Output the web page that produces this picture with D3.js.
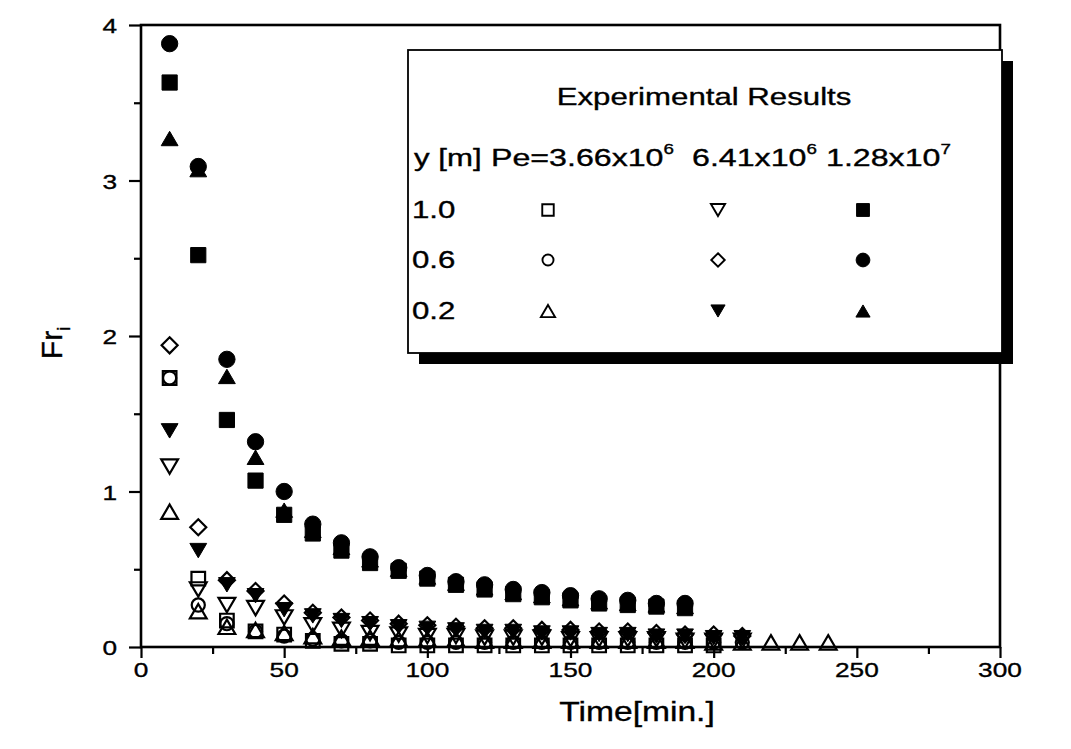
<!DOCTYPE html>
<html>
<head>
<meta charset="utf-8">
<script src="https://cdn.jsdelivr.net/npm/d3@7"></script>
<style>
html,body{margin:0;padding:0;background:#fff;}
svg{display:block;font-family:"Liberation Sans",Arial,sans-serif;}
</style>
</head>
<body>
<svg id="chart" width="1071" height="749"></svg>
<script>
// ---- data ----
const time = [10,20,30,40,50,60,70,80,90,100,110,120,130,140,150,160,170,180,190,200,210,220,230,240];
const xTicks = [0,50,100,150,200,250,300];
const yTicks = [0,1,2,3,4];
// Pe = 3.66x10^6
const pe1_y10 = [1.73,0.44,0.17,0.10,0.08,0.04,0.02,0.02,0.01,0.01,0.01,0.01,0.01,0.01,0.01,0.01,0.01,0.01,0.01,0.01];
const pe1_y06 = [1.73,0.27,0.15,0.10,0.07,0.05,0.04,0.04,0.03,0.03,0.03,0.03,0.03,0.03,0.03,0.03,0.03,0.03,0.03,0.03,0.03];
const pe1_y02 = [0.87,0.23,0.13,0.11,0.09,0.07,0.06,0.06,0.05,0.05,0.05,0.04,0.04,0.04,0.04,0.04,0.04,0.04,0.04,0.03,0.03,0.03,0.03,0.03];
// Pe = 6.41x10^6
const pe2_y10 = [1.16,0.37,0.27,0.25,0.19,0.14,0.11,0.09,0.08,0.07,0.07,0.06,0.06,0.06,0.05,0.05,0.05,0.05,0.04,0.04,0.04];
const pe2_y06 = [1.94,0.77,0.43,0.36,0.28,0.22,0.19,0.17,0.15,0.14,0.13,0.12,0.12,0.11,0.11,0.10,0.10,0.09,0.08,0.08,0.07];
const pe2_y02 = [1.39,0.62,0.40,0.33,0.24,0.20,0.17,0.15,0.13,0.12,0.11,0.10,0.10,0.09,0.09,0.08,0.08,0.07,0.07,0.06,0.06];
// Pe = 1.28x10^7
const pe3_y10 = [3.63,2.52,1.46,1.07,0.85,0.73,0.62,0.54,0.49,0.44,0.40,0.37,0.34,0.32,0.30,0.28,0.27,0.26,0.25];
const pe3_y06 = [3.88,3.09,1.85,1.32,1.00,0.79,0.67,0.58,0.51,0.46,0.42,0.40,0.37,0.35,0.33,0.31,0.30,0.28,0.28];
const pe3_y02 = [3.27,3.07,1.74,1.22,0.88,0.75,0.64,0.56,0.50,0.45,0.41,0.38,0.35,0.33,0.31,0.29,0.28,0.27,0.26];

const rowLabels = ["1.0","0.6","0.2"];

// series definitions (value array + marker)
const series = [
  {v: pe3_y10, shape:"square",  filled:true,  row:0, col:2},
  {v: pe3_y06, shape:"circle",  filled:true,  row:1, col:2},
  {v: pe3_y02, shape:"triUp",   filled:true,  row:2, col:2},
  {v: pe2_y02, shape:"triDown", filled:true,  row:2, col:1},
  {v: pe2_y06, shape:"diamond", filled:false, row:1, col:1},
  {v: pe2_y10, shape:"triDown", filled:false, row:0, col:1},
  {v: pe1_y10, shape:"square",  filled:false, row:0, col:0},
  {v: pe1_y06, shape:"circle",  filled:false, row:1, col:0},
  {v: pe1_y02, shape:"triUp",   filled:false, row:2, col:0}
];

// ---- layout ----
const svg = d3.select("#chart");
const L = 141, R = 1000, T = 25, B = 647;
const x = d3.scaleLinear().domain([0,300]).range([L,R]);
const y = d3.scaleLinear().domain([0,4]).range([B,T]);
const SX = 1.25; // horizontal stretch of the original lettering

function stext(parent, px, py, str, size, anchor, sx){
  const g = parent.append("g").attr("transform",`translate(${px},${py}) scale(${sx},1)`);
  return g.append("text").attr("x",0).attr("y",0)
    .attr("font-size",size).attr("text-anchor",anchor||"start").attr("fill","#000")
    .attr("stroke","#000").attr("stroke-width",0.35).text(str);
}

function markerPath(shape, s, filled){
  const h = s/2;
  switch(shape){
    case "square": { const q = filled ? h*0.95 : h*0.85; return `M${-q},${-q}H${q}V${q}H${-q}Z`; }
    case "circle": { const r = filled ? h*1.02 : h*0.82; return `M${r},0A${r},${r} 0 1,1 ${-r},0A${r},${r} 0 1,1 ${r},0Z`; }
    case "triUp":   { const hh = s*0.45; return `M0,${-hh}L${h*1.05},${hh}L${-h*1.05},${hh}Z`; }
    case "triDown": { const hh = s*0.45; return `M0,${hh}L${h*1.05},${-hh}L${-h*1.05},${-hh}Z`; }
    case "diamond": { const d = h*1.0; return `M0,${-d}L${d},0L0,${d}L${-d},0Z`; }
  }
}

// ---- axes ----
const gx = svg.append("g").attr("transform",`translate(0,${B})`)
  .call(d3.axisBottom(x).tickValues(xTicks).tickSize(11).tickFormat(""));
const gxm = svg.append("g").attr("transform",`translate(0,${B})`)
  .call(d3.axisBottom(x).tickValues(d3.range(25,300,50)).tickSize(7).tickFormat(""));
const gy = svg.append("g").attr("transform",`translate(${L},0)`)
  .call(d3.axisLeft(y).tickValues(yTicks).tickSize(12).tickFormat(""));
const gym = svg.append("g").attr("transform",`translate(${L},0)`)
  .call(d3.axisLeft(y).tickValues(d3.range(0.5,4,1)).tickSize(7).tickFormat(""));
[gx,gxm,gy,gym].forEach(g=>{
  g.select(".domain").remove();
  g.selectAll(".tick line").attr("stroke","#000").attr("stroke-width",2.2);
});
// frame
svg.append("rect").attr("x",L).attr("y",T).attr("width",R-L).attr("height",B-T)
  .attr("fill","none").attr("stroke","#000").attr("stroke-width",2.6);

// tick labels
xTicks.forEach(t=>stext(svg, x(t), B+30, String(t), 21, "middle", SX));
yTicks.forEach(t=>stext(svg, 117, y(t)+8, String(t), 21, "end", SX));

// axis titles
stext(svg, 637, 721, "Time[min.]", 28, "middle", 1.2);
const yt = svg.append("g").attr("transform",`translate(62,343) rotate(-90)`)
  .append("text").attr("text-anchor","middle").attr("font-size",30)
  .attr("stroke","#000").attr("stroke-width",0.35);
yt.append("tspan").text("Fr");
yt.append("tspan").attr("font-size",18).attr("dy",8).text("i");

// ---- data marks ----
const plot = svg.append("g");
series.forEach(s=>{
  const pts = s.v.map((v,i)=>({t:time[i], v}));
  plot.selectAll(null).data(pts).enter().append("path")
    .attr("transform",d=>`translate(${x(d.t)},${y(d.v)})`)
    .attr("d",markerPath(s.shape,16,s.filled))
    .attr("fill",s.filled?"#000":"none")
    .attr("stroke","#000").attr("stroke-width",s.filled?1:2.2);
});

// ---- legend ----
const lg = svg.append("g");
const LX0 = 408, LY0 = 50, LX1 = 1002, LY1 = 353;
lg.append("rect").attr("x",LX0+11).attr("y",LY0+11).attr("width",LX1-LX0).attr("height",LY1-LY0).attr("fill","#000");
lg.append("rect").attr("x",LX0).attr("y",LY0).attr("width",LX1-LX0).attr("height",LY1-LY0)
  .attr("fill","#fff").attr("stroke","#000").attr("stroke-width",1.8);
stext(lg, 704, 105, "Experimental Results", 24, "middle", 1.3);
stext(lg, 414, 166, "y [m]", 24, "start", 1.3);
const heads = [{x:491, base:"Pe=3.66x10", sup:"6"},{x:692, base:"6.41x10", sup:"6"},{x:826, base:"1.28x10", sup:"7"}];
heads.forEach(h=>{
  const t = stext(lg, h.x, 166, "", 24, "start", 1.34);
  t.append("tspan").text(h.base);
  t.append("tspan").attr("font-size",14).attr("dy",-12).text(h.sup);
});
const rowY = [218,268,319];
rowLabels.forEach((r,i)=>stext(lg, 412, rowY[i], r, 24, "start", 1.3));
const colX = [548,718,863];
series.forEach(s=>{
  lg.append("path")
    .attr("transform",`translate(${colX[s.col]},${rowY[s.row]-8})`)
    .attr("d",markerPath(s.shape,13.5,s.filled))
    .attr("fill",s.filled?"#000":"none")
    .attr("stroke","#000").attr("stroke-width",s.filled?1:1.9);
});
</script>
</body>
</html>
